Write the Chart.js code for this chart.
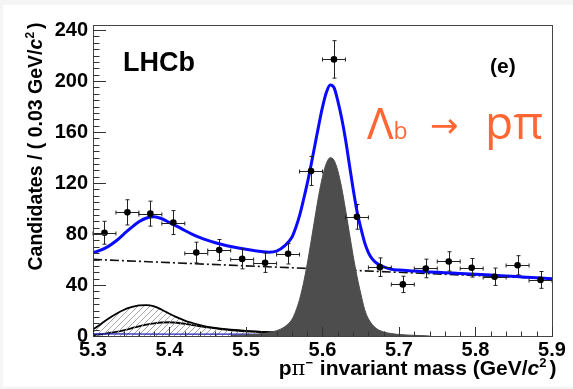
<!DOCTYPE html>
<html><head><meta charset="utf-8">
<script src="https://cdn.jsdelivr.net/npm/chart.js@4.4.0/dist/chart.umd.min.js"></script>
<style>html,body{margin:0;padding:0;background:#f5f5f5;}canvas{display:block;}</style>
</head><body>
<canvas id="c" width="573" height="389"></canvas>
<script>
// ---- data ----
const binCenters = [5.315,5.345,5.375,5.405,5.435,5.465,5.495,5.525,5.555,5.585,5.615,5.645,5.675,5.705,5.735,5.765,5.795,5.825,5.855,5.885];
const candidates = [81,97,96,89,65.5,67.5,60.5,57.5,64.5,129.5,217,93.5,54,40.5,53,58.5,53.5,46.5,55.5,44];
const candErr = [9,9.9,9.8,9.4,8.1,8.2,7.8,7.6,8,11.4,14.7,9.7,7.3,6.4,7.3,7.6,7.3,6.8,7.5,6.6];
const binHalfWidth = 0.015;

const fitMass = [5.30,5.31,5.32,5.33,5.34,5.35,5.36,5.37,5.38,5.39,5.40,5.41,5.42,5.43,5.44,5.45,5.46,5.47,5.48,5.49,5.50,5.51,5.52,5.53,5.54,5.55,5.56,
  5.565,5.57,5.575,5.58,5.585,5.59,5.595,5.60,5.605,5.61,5.615,5.62,5.625,5.63,5.635,5.64,5.645,5.65,5.655,5.66,5.665,
  5.67,5.68,5.69,5.70,5.72,5.74,5.76,5.78,5.80,5.82,5.84,5.86,5.88,5.90];
const fitTotal = [65.3,67.3,70.3,74.5,79.8,85.0,89.6,92.6,93.6,92.0,89.0,86.0,82.8,79.8,77.2,75.0,73.2,71.6,70.2,69.0,68.0,67.1,66.3,65.8,66.6,70.5,77.5,
  85.0,94.5,106.5,119.5,134.0,149.5,165.0,179.5,191.0,197.0,195.0,184.5,171.0,154.5,135.0,115.5,98.0,85.0,73.5,65.5,60.5,
  57.5,54.2,52.4,51.7,51.0,50.3,49.7,49.0,48.4,47.8,47.1,46.4,45.7,45.0];

const combMass = [5.30,5.90];
const combLevel = [60.1,44.9];

const sigMass = [5.48,5.49,5.50,5.51,5.52,5.53,5.54,5.55,5.56,
  5.565,5.57,5.575,5.58,5.585,5.59,5.595,5.60,5.605,5.61,5.615,5.62,5.625,5.63,5.635,5.64,5.645,5.65,5.655,
  5.66,5.67,5.68,5.69,5.70,5.71,5.72,5.73,5.74];
const sigLevel = [0.3,0.5,0.8,1.2,1.7,2.6,4.2,7.0,13.0,
  19.5,28.6,41.0,56.4,74.0,92.3,110.0,124.9,135.3,139.9,137.9,129.7,116.3,99.5,81.2,63.2,47.0,33.3,21.0,
  13.5,6.0,3.2,1.9,1.2,0.8,0.5,0.3,0];

const partMass = [5.30,5.31,5.32,5.33,5.34,5.35,5.36,5.37,5.38,5.39,5.40,5.41,5.42,5.43,5.44,5.45,5.46,5.47,5.48,5.49,5.50,5.51,5.52,5.53,5.54,5.55,5.56,5.57,5.58,5.59,5.60,5.61,5.62,5.63];
const partRecoA = [5.2,9.3,13.5,17.2,20.4,22.6,24.0,24.3,23.2,20.6,17.5,14.6,12.1,10.2,8.5,7.2,6.3,5.6,5.0,4.5,4.1,3.7,3.3,3.0,2.8,2.6,2.5,2.4,2.2,1.8,1.2,0.6,0.2,0];
const partRecoB = [0.6,1.3,2.2,3.2,4.5,6.0,7.6,8.9,9.9,10.6,10.8,10.4,9.6,8.6,7.6,6.7,5.9,5.2,4.6,4.1,3.7,3.4,3.1,2.9,2.7,2.5,2.4,2.3,2.1,1.7,1.1,0.5,0.2,0];

const lowMass = [5.30,5.40,5.50,5.55,5.60,5.64];
const lowLevel = [1.6,1.5,1.4,1.3,0.7,0];

const xTicks = [5.3,5.4,5.5,5.6,5.7,5.8,5.9];
const yTicks = [0,40,80,120,160,200,240];
const xMinorStep = 0.02;
const yMinorStep = 5;

// ---- helpers ----
const pts = (xs, ys) => xs.map((x, i) => ({x: x, y: ys[i]}));
const SANS = '"Liberation Sans", Arial, Helvetica, sans-serif';
const canvas = document.getElementById('c');
const ctx0 = canvas.getContext('2d');

function makeHatch() {
  const t = document.createElement('canvas');
  t.width = 6; t.height = 6;
  const g = t.getContext('2d');
  g.strokeStyle = '#9c9c9c';
  g.lineWidth = 0.9;
  g.beginPath();
  g.moveTo(0, 6); g.lineTo(6, 0);
  g.moveTo(-1, 1); g.lineTo(1, -1);
  g.moveTo(5, 7); g.lineTo(7, 5);
  g.stroke();
  return ctx0.createPattern(t, 'repeat');
}
const hatch = makeHatch();

function drawRich(ctx, segs, x, y, align) {
  let w = 0;
  segs.forEach(s => { ctx.font = s.font; w += ctx.measureText(s.t).width + (s.gap || 0); });
  let cx = align === 'right' ? x - w : (align === 'center' ? x - w / 2 : x);
  segs.forEach(s => {
    ctx.font = s.font;
    ctx.fillStyle = s.color || '#000';
    ctx.fillText(s.t, cx, y - (s.dy || 0));
    cx += ctx.measureText(s.t).width + (s.gap || 0);
  });
}

const decor = {
  id: 'decor',
  beforeDraw(chart) {
    const c = chart.ctx;
    c.save();
    c.fillStyle = '#f5f5f5';
    c.fillRect(0, 0, chart.width, chart.height);
    c.fillStyle = '#ffffff';
    c.fillRect(3, 5, chart.width - 3, chart.height - 7.5);
    c.restore();
  },
  beforeDatasetDraw(chart, args) {
    const ds = chart.data.datasets[args.index];
    if (ds.label !== 'Data') return;
    const c = chart.ctx, xs = chart.scales.x, ys = chart.scales.y;
    c.save();
    c.strokeStyle = '#222';
    c.lineWidth = 1;
    c.beginPath();
    binCenters.forEach((m, i) => {
      const px = Math.round(xs.getPixelForValue(m)) + 0.5;
      const py = Math.round(ys.getPixelForValue(candidates[i])) + 0.5;
      const yt = ys.getPixelForValue(candidates[i] + candErr[i]);
      const yb = ys.getPixelForValue(candidates[i] - candErr[i]);
      const xl = xs.getPixelForValue(m - binHalfWidth);
      const xr = xs.getPixelForValue(m + binHalfWidth);
      c.moveTo(px, yt); c.lineTo(px, yb);
      c.moveTo(px - 2, yt); c.lineTo(px + 2, yt);
      c.moveTo(px - 2, yb); c.lineTo(px + 2, yb);
      c.moveTo(xl, py); c.lineTo(xr, py);
      c.moveTo(xl, py - 2); c.lineTo(xl, py + 2);
      c.moveTo(xr, py - 2); c.lineTo(xr, py + 2);
    });
    c.stroke();
    c.restore();
  },
  afterDraw(chart) {
    const c = chart.ctx, a = chart.chartArea, xs = chart.scales.x, ys = chart.scales.y;
    c.save();
    // frame
    c.strokeStyle = '#444';
    c.lineWidth = 1;
    c.strokeRect(Math.round(a.left) + 0.5, Math.round(a.top) + 0.5, Math.round(a.right - a.left), Math.round(a.bottom - a.top));
    // ticks
    c.strokeStyle = '#333';
    c.beginPath();
    for (let v = ys.min; v <= ys.max + 1e-9; v += yMinorStep) {
      const major = yTicks.indexOf(Math.round(v)) >= 0;
      const py = Math.round(ys.getPixelForValue(v)) + 0.5;
      c.moveTo(a.left, py); c.lineTo(a.left + (major ? 13 : 6.5), py);
    }
    for (let k = 0; ; k++) {
      const v = xs.min + k * xMinorStep;
      if (v > xs.max + 1e-9) break;
      const major = (k % 5) === 0;
      const px = Math.round(xs.getPixelForValue(v)) + 0.5;
      c.moveTo(px, a.bottom); c.lineTo(px, a.bottom - (major ? 9 : 4.5));
    }
    c.stroke();
    // labels
    c.textBaseline = 'alphabetic';
    c.fillStyle = '#000';
    drawRich(c, [{t: 'LHCb', font: 'bold 27px ' + SANS}], a.left + 30, a.top + 46, 'left');
    drawRich(c, [{t: '(e)', font: 'bold 21px ' + SANS}], a.right - 62, a.top + 48, 'left');
    const OR = '#ff6633';
    drawRich(c, [
      {t: 'Λ', font: '44px "Open Sans", sans-serif', color: OR},
      {t: 'b', font: '23px "Open Sans", sans-serif', color: OR}
    ], a.left + 274, a.top + 114, 'left');
    drawRich(c, [{t: '→', font: '34px "DejaVu Sans", sans-serif', color: OR}], a.left + 337, a.top + 112, 'left');
    drawRich(c, [{t: 'pπ', font: '46px "Open Sans", sans-serif', color: OR}], a.left + 392, a.top + 114, 'left');
    // x title
    drawRich(c, [
      {t: 'p', font: 'bold 21px ' + SANS},
      {t: 'π', font: '21px "DejaVu Serif", serif'},
      {t: '−', font: 'bold 13px ' + SANS, dy: 8, gap: 1},
      {t: ' invariant mass (GeV/', font: 'bold 21px ' + SANS},
      {t: 'c', font: 'italic bold 21px ' + SANS},
      {t: '2', font: 'bold 13px ' + SANS, dy: 8, gap: 3},
      {t: ')', font: 'bold 21px ' + SANS}
    ], a.right + 4.5, a.bottom + 39, 'right');
    // y title
    c.translate(41.5, 146.5);
    c.rotate(-Math.PI / 2);
    drawRich(c, [
      {t: 'Candidates / ( 0.03 GeV/', font: 'bold 19.5px ' + SANS},
      {t: 'c', font: 'italic bold 19.5px ' + SANS},
      {t: '2', font: 'bold 12px ' + SANS, dy: 8, gap: 3},
      {t: ')', font: 'bold 19.5px ' + SANS}
    ], 0, 0, 'center');
    c.restore();
  }
};

const tickFont = {family: SANS, size: 20, weight: 'bold'};

new Chart(canvas, {
  type: 'scatter',
  data: {
    datasets: [
      {label: 'Data', data: pts(binCenters, candidates), pointRadius: 3.3, pointBackgroundColor: '#000', pointBorderWidth: 0, showLine: false, order: 0},
      {label: 'Total fit', data: pts(fitMass, fitTotal), showLine: true, pointRadius: 0, borderColor: '#0a0aff', borderWidth: 3, cubicInterpolationMode: 'monotone', fill: false, order: 1},
      {label: 'Combinatorial', data: pts(combMass, combLevel), showLine: true, pointRadius: 0, borderColor: '#111', borderWidth: 1.6, borderDash: [9, 3, 2, 3], fill: false, order: 3},
      {label: 'Signal', data: pts(sigMass, sigLevel), showLine: true, pointRadius: 0, borderColor: '#4d4d4d', borderWidth: 1, backgroundColor: '#4d4d4d', cubicInterpolationMode: 'monotone', fill: 'origin', order: 2},
      {label: 'Low', data: pts(lowMass, lowLevel), showLine: true, pointRadius: 0, borderColor: '#2020c0', borderWidth: 1.2, cubicInterpolationMode: 'monotone', fill: false, order: 4},
      {label: 'Part. reco. A', data: pts(partMass, partRecoA), showLine: true, pointRadius: 0, borderColor: '#000', borderWidth: 1.8, backgroundColor: hatch, cubicInterpolationMode: 'monotone', fill: 'origin', order: 5},
      {label: 'Part. reco. B', data: pts(partMass, partRecoB), showLine: true, pointRadius: 0, borderColor: '#000', borderWidth: 1.8, backgroundColor: hatch, cubicInterpolationMode: 'monotone', fill: 'origin', order: 6}
    ]
  },
  options: {
    responsive: false,
    animation: false,
    devicePixelRatio: 1,
    layout: {padding: {left: 0, top: 25, right: 21, bottom: 0}},
    plugins: {legend: {display: false}, tooltip: {enabled: false}},
    scales: {
      x: {
        type: 'linear', min: 5.3, max: 5.9,
        afterBuildTicks: s => { s.ticks = xTicks.map(v => ({value: v})); },
        afterFit: s => { s.height = 53; },
        grid: {display: false, drawTicks: false},
        border: {display: false},
        ticks: {padding: 2, font: tickFont, color: '#000', maxRotation: 0, autoSkip: false, callback: v => Number(v).toFixed(1)}
      },
      y: {
        type: 'linear', min: 0, max: 244,
        afterBuildTicks: s => { s.ticks = yTicks.map(v => ({value: v})); },
        afterFit: s => { s.width = 93; },
        grid: {display: false, drawTicks: false},
        border: {display: false},
        ticks: {padding: 5, font: tickFont, color: '#000', autoSkip: false, callback: v => String(v)}
      }
    }
  },
  plugins: [decor]
});
</script>
</body></html>
